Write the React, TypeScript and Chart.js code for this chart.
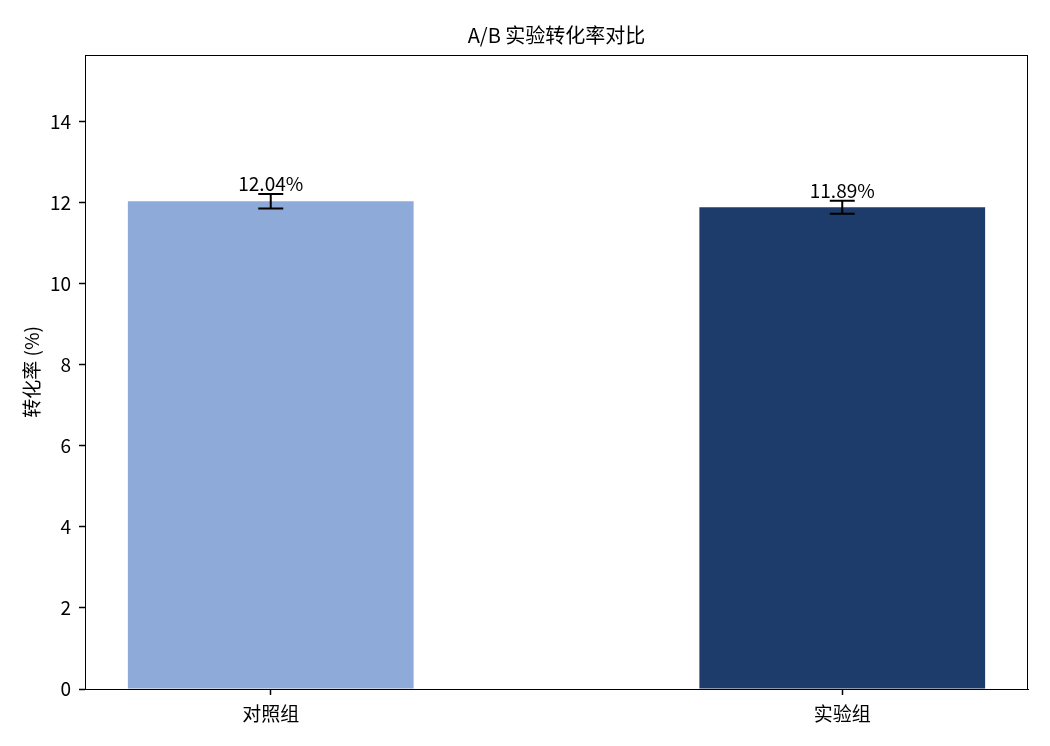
import React, { useEffect, useRef } from "react";
import { Chart, registerables } from "chart.js";

Chart.register(...registerables);

const categories: string[] = ["对照组", "实验组"];
const rates: number[] = [12.04, 11.89];
const errors: number[] = [0.18, 0.16];
const barColors: string[] = ["#8EAAD8", "#1D3B6B"];
const yTicks: number[] = [0, 2, 4, 6, 8, 10, 12, 14];
const titleText = "A/B 实验转化率对比";
const yLabel = "转化率 (%)";

const FONT = "'Noto Sans CJK SC', 'Noto Sans', sans-serif";

export default function App() {
  const ref = useRef<HTMLCanvasElement | null>(null);

  useEffect(() => {
    if (!ref.current) return;
    const extras = {
      id: "extras",
      afterDatasetsDraw(chart: any) {
        const ctx = chart.ctx;
        const xs = chart.scales.x;
        const ys = chart.scales.y;
        ctx.save();
        rates.forEach((v, i) => {
          const x = xs.getPixelForValue(i);
          const yTop = ys.getPixelForValue(v + errors[i]);
          const yBot = ys.getPixelForValue(v - errors[i]);
          ctx.strokeStyle = "#000";
          ctx.lineWidth = 2;
          ctx.beginPath();
          ctx.moveTo(x, yTop);
          ctx.lineTo(x, yBot);
          ctx.moveTo(x - 12.5, yTop);
          ctx.lineTo(x + 12.5, yTop);
          ctx.moveTo(x - 12.5, yBot);
          ctx.lineTo(x + 12.5, yBot);
          ctx.stroke();
          ctx.fillStyle = "#000";
          ctx.font = `19px ${FONT}`;
          ctx.textAlign = "center";
          ctx.textBaseline = "bottom";
          ctx.fillText(v.toFixed(2) + "%", x, yTop - 1);
        });
        ctx.restore();
      },
      afterDraw(chart: any) {
        const ctx = chart.ctx;
        const a = chart.chartArea;
        ctx.save();
        ctx.strokeStyle = "#000";
        ctx.lineWidth = 1;
        ctx.strokeRect(a.left + 0.5, a.top + 0.5, a.right - a.left - 1, a.bottom - a.top);
        ctx.fillStyle = "#000";
        ctx.font = `20px ${FONT}`;
        ctx.textAlign = "center";
        ctx.textBaseline = "middle";
        ctx.fillText(titleText, (a.left + a.right) / 2, 35);
        ctx.restore();
      },
    };

    const chart = new Chart(ref.current, {
      type: "bar",
      data: {
        datasets: [
          {
            data: rates.map((v, i) => ({ x: i, y: v })),
            backgroundColor: barColors,
            borderWidth: 0,
            barPercentage: 0.5,
            categoryPercentage: 1,
          },
        ],
      },
      options: {
        responsive: false,
        animation: false,
        devicePixelRatio: 1,
        layout: { padding: { left: 0, right: 22, top: 55, bottom: 0 } },
        plugins: {
          legend: { display: false },
          tooltip: { enabled: false },
          title: { display: false },
        },
        scales: {
          x: {
            type: "linear",
            min: -0.325,
            max: 1.325,
            offset: false,
            afterBuildTicks(scale: any) {
              scale.ticks = categories.map((_, i) => ({ value: i }));
            },
            afterFit(scale: any) {
              scale.height = 57;
            },
            ticks: {
              color: "#000",
              font: { family: FONT, size: 19 },
              padding: 7,
              maxRotation: 0,
              autoSkip: false,
              callback: (v: any) => categories[v as number] ?? "",
            },
            grid: {
              offset: false,
              drawOnChartArea: false,
              drawTicks: true,
              tickLength: 6,
              color: "#000",
              tickWidth: 1.5,
            },
            border: { color: "#000", width: 1 },
          },
          y: {
            min: 0,
            max: 15.65,
            afterBuildTicks(scale: any) {
              scale.ticks = yTicks.map((v) => ({ value: v }));
            },
            afterFit(scale: any) {
              scale.width = 85;
            },
            ticks: {
              color: "#000",
              font: { family: FONT, size: 19 },
              padding: 8,
            },
            grid: {
              drawOnChartArea: false,
              drawTicks: true,
              tickLength: 6,
              color: "#000",
              tickWidth: 1.5,
            },
            border: { color: "#000", width: 1 },
            title: {
              display: true,
              text: yLabel,
              color: "#000",
              font: { family: FONT, size: 19 },
              padding: { top: 20, bottom: 0 },
            },
          },
        },
      },
      plugins: [extras],
    } as any);
    return () => chart.destroy();
  }, []);

  return (
    <div style={{ position: "absolute", left: 0, top: 0, width: 1050, height: 746, background: "#fff" }}>
      <canvas ref={ref} width={1050} height={746} style={{ width: 1050, height: 746 }} />
    </div>
  );
}
